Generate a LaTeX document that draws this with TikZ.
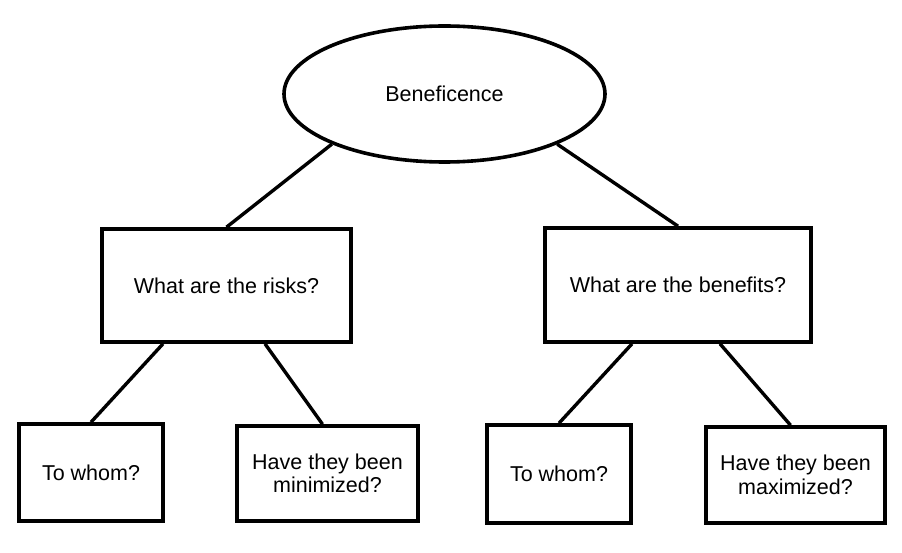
\documentclass[tikz,border=0pt]{standalone}
\usepackage{fontspec}
\setmainfont{Liberation Sans}
\usetikzlibrary{shapes.geometric,calc}
\begin{document}
\begin{tikzpicture}[x=1pt,y=1pt,
  every node/.style={font=\fontsize{21.5}{23.5}\selectfont, align=center, inner sep=0pt},
  qbox/.style={draw, rectangle, line width=3.6pt},
  oval/.style={draw, ellipse, line width=3.6pt},
  link/.style={line width=3.4pt}]
\useasboundingbox (0,0) rectangle (902,552);
\fill[white] (0,0) rectangle (902,552);
\node[oval, minimum width=321, minimum height=136] (root) at (444.5,458) {Beneficence};
\node[qbox, minimum width=249, minimum height=113] (risk) at (226.5,266.5) {What are the risks?};
\node[qbox, minimum width=266, minimum height=114] (ben) at (678,267) {What are the benefits?};
\node[qbox, minimum width=144, minimum height=97] (who1) at (91,79.5) {To whom?};
\node[qbox, minimum width=181, minimum height=95] (mini) at (327.5,78.5) {Have they been\\minimized?};
\node[qbox, minimum width=144, minimum height=98] (who2) at (559,78) {To whom?};
\node[qbox, minimum width=179, minimum height=96] (maxi) at (795.5,77) {Have they been\\maximized?};
\draw[link] (root.204.4) -- (risk.north);
\draw[link] (root.336) -- (ben.north);
\draw[link] ($(risk.south)+(-63.5,0)$) -- (who1.north);
\draw[link] ($(risk.south)+(38.5,0)$) -- ($(mini.north)+(-5,0)$);
\draw[link] ($(ben.south)+(-46,0)$) -- (who2.north);
\draw[link] ($(ben.south)+(42,0)$) -- ($(maxi.north)+(-5,0)$);
\end{tikzpicture}
\end{document}
